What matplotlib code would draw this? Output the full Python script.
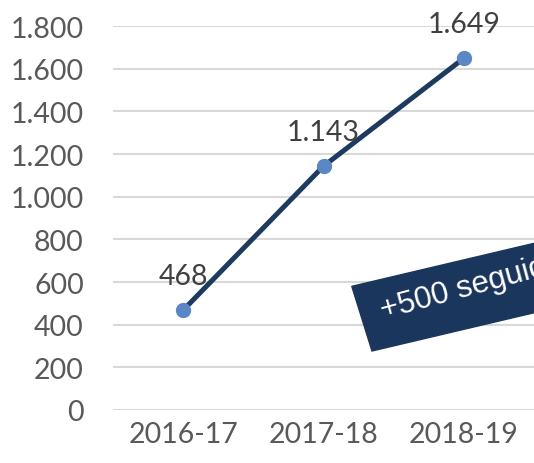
import matplotlib.pyplot as plt
from matplotlib.patches import Rectangle

seasons = ['2016-17', '2017-18', '2018-19']
followers = [468, 1143, 1649]
y_ticks = [0, 200, 400, 600, 800, 1000, 1200, 1400, 1600, 1800]
badge_text = '+500 seguidores'


def fmt(v):
    # dot as thousands separator
    return f'{v:,}'.replace(',', '.')


plt.rcParams['font.family'] = ['Lato', 'DejaVu Sans']
W, H = 534, 464
fig = plt.figure(figsize=(W / 100, H / 100), dpi=100)
ax = fig.add_axes([113 / W, 1 - 411 / H, 421 / W, 384 / H])

ax.plot(range(len(seasons)), followers, color='#1d3a5f', lw=3.6,
        marker='o', ms=10, mfc='#5b87c5', mec='#5b87c5', zorder=3, clip_on=False)
for i, v in enumerate(followers):
    ax.annotate(fmt(v), (i, v), xytext=(0, 19), textcoords='offset points',
                ha='center', va='baseline', fontsize=20.5, color='#404040',
                annotation_clip=False)

ax.set_xlim(-0.5, len(seasons) - 0.5)
ax.set_ylim(0, 1800)
ax.set_yticks(y_ticks)
ax.set_yticklabels([fmt(t) for t in y_ticks])
ax.set_xticks(range(len(seasons)))
ax.set_xticklabels(seasons)
ax.tick_params(length=0, labelsize=20.5, labelcolor='#595959')
ax.tick_params(axis='y', pad=21)
ax.tick_params(axis='x', pad=8)
ax.grid(axis='y', color='#d9d9d9', lw=1.5)
ax.set_axisbelow(True)
for s in ax.spines.values():
    s.set_visible(False)

# rotated badge, runs off the right edge
fig.patches.append(Rectangle((372 / W, 112 / H), 320 / W, 67 / H, angle=15.2,
                             transform=fig.transFigure, color='#1b365d', zorder=5,
                             rotation_point=(372 / W, 112 / H)))
fig.text(383 / W, 145 / H, badge_text, rotation=15.2, rotation_mode='anchor',
         ha='left', va='baseline', color='white', fontsize=22.5,
         family=['Liberation Sans', 'DejaVu Sans'], zorder=6)

fig.savefig('out.png', dpi=100)
